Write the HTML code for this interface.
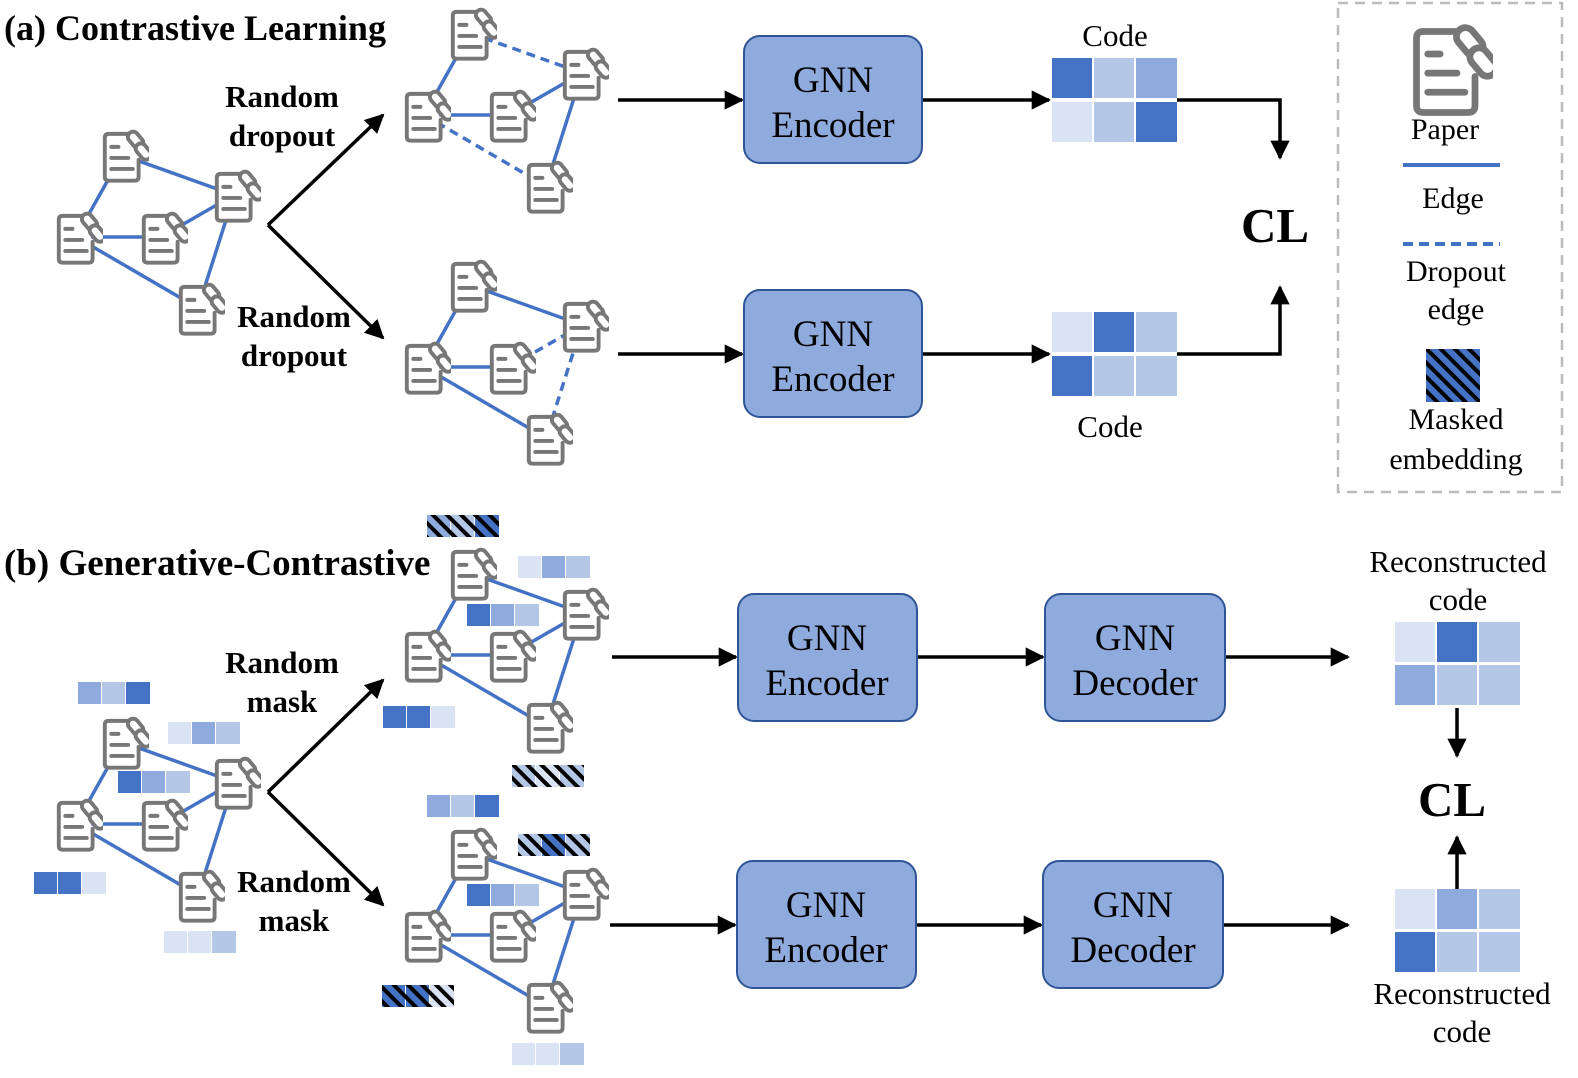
<!DOCTYPE html>
<html><head><meta charset="utf-8"><style>
html,body{margin:0;padding:0;background:#fff;}
svg{display:block;}
.t{font-family:"Liberation Serif",serif;}
</style></head><body>
<svg width="1578" height="1078" viewBox="0 0 1578 1078" xmlns="http://www.w3.org/2000/svg">
<defs>
<symbol id="p" viewBox="0 0 80 85">
<g fill="none" stroke="#777" stroke-width="6" stroke-linecap="round" stroke-linejoin="round">
<path d="M50 10 H18 Q12 10 12 16 V76 Q12 82 18 82 H58 Q64 82 64 76 V50" fill="#fff"/>
<path d="M22 30 H33 M22 47 H48 M22 64 H55"/>
<rect x="-8" y="-15" width="16" height="28" rx="8" transform="translate(60 20) rotate(-40)" fill="#fff"/>
<rect x="-8" y="-15" width="16" height="28" rx="8" transform="translate(72 38) rotate(-40)" fill="#fff"/>
</g>
</symbol>
<pattern id="st" width="10" height="10" patternUnits="userSpaceOnUse" patternTransform="rotate(-45)">
<rect x="0" y="0" width="4" height="10" fill="#000"/>
</pattern>
<marker id="ah" viewBox="0 0 10 10" refX="9" refY="5" markerWidth="5.5" markerHeight="5.5" orient="auto-start-reverse" markerUnits="strokeWidth">
<path d="M0 0 L10 5 L0 10 z" fill="#000"/>
</marker>
<g id="icons">
<use href="#p" x="-25" y="-28" width="52" height="56"/>
<use href="#p" x="87" y="12" width="52" height="56"/>
<use href="#p" x="-71" y="54" width="52" height="56"/>
<use href="#p" x="14" y="54" width="52" height="56"/>
<use href="#p" x="51" y="125" width="52" height="56"/>
</g>
<g id="fullg">
<g stroke="#4472C4" stroke-width="3.5" fill="none">
<line x1="0" y1="0" x2="-46" y2="82"/><line x1="-46" y1="82" x2="39" y2="82"/><line x1="39" y1="82" x2="112" y2="40"/><line x1="112" y1="40" x2="76" y2="153"/>
<line x1="0" y1="0" x2="112" y2="40"/><line x1="-46" y1="82" x2="76" y2="153"/>
</g>
<use href="#icons"/>
</g>
</defs>

<text class="t" x="4" y="40" font-size="36" font-weight="bold">(a) Contrastive Learning</text>
<text class="t" x="4" y="575" font-size="37" font-weight="bold">(b) Generative-Contrastive</text>

<use href="#fullg" transform="translate(122 155)"/>
<g transform="translate(470 33)">
<g stroke="#4472C4" stroke-width="3.5" fill="none">
<line x1="0" y1="0" x2="-46" y2="82"/><line x1="-46" y1="82" x2="39" y2="82"/><line x1="39" y1="82" x2="112" y2="40"/><line x1="112" y1="40" x2="76" y2="153"/>
<line x1="0" y1="0" x2="112" y2="40" stroke-dasharray="9 6"/><line x1="-46" y1="82" x2="76" y2="153" stroke-dasharray="9 6"/>
</g><use href="#icons"/></g>
<g transform="translate(470 285)">
<g stroke="#4472C4" stroke-width="3.5" fill="none">
<line x1="0" y1="0" x2="-46" y2="82"/><line x1="-46" y1="82" x2="39" y2="82"/><line x1="39" y1="82" x2="112" y2="40" stroke-dasharray="9 6"/><line x1="112" y1="40" x2="76" y2="153" stroke-dasharray="9 6"/>
<line x1="0" y1="0" x2="112" y2="40"/><line x1="-46" y1="82" x2="76" y2="153"/>
</g><use href="#icons"/></g>

<use href="#fullg" transform="translate(122 742)"/>
<use href="#fullg" transform="translate(470 573)"/>
<use href="#fullg" transform="translate(470 853)"/>

<g stroke="#000" stroke-width="3.5" fill="none" marker-end="url(#ah)">
<line x1="268" y1="225" x2="383" y2="115"/>
<line x1="268" y1="225" x2="383" y2="338"/>
<line x1="268" y1="792" x2="383" y2="680"/>
<line x1="268" y1="792" x2="383" y2="905"/>
<line x1="618" y1="100" x2="742" y2="100"/>
<line x1="922" y1="100" x2="1049" y2="100"/>
<line x1="618" y1="354" x2="742" y2="354"/>
<line x1="922" y1="354" x2="1049" y2="354"/>
<polyline points="1177,100 1280,100 1280,158"/>
<polyline points="1177,354 1280,354 1280,287"/>
<line x1="612" y1="657" x2="736" y2="657"/>
<line x1="917" y1="657" x2="1043" y2="657"/>
<line x1="1225" y1="657" x2="1348" y2="657"/>
<line x1="610" y1="925" x2="735" y2="925"/>
<line x1="916" y1="925" x2="1041" y2="925"/>
<line x1="1223" y1="925" x2="1348" y2="925"/>
<line x1="1457" y1="708" x2="1457" y2="756"/>
<line x1="1457" y1="889" x2="1457" y2="837"/>
</g>

<g class="t" font-size="31" font-weight="bold" text-anchor="middle">
<text x="282" y="107">Random</text><text x="282" y="146">dropout</text>
<text x="294" y="327">Random</text><text x="294" y="366">dropout</text>
<text x="282" y="673">Random</text><text x="282" y="712">mask</text>
<text x="294" y="892">Random</text><text x="294" y="931">mask</text>
</g>

<g fill="#8FAADC" stroke="#2F5597" stroke-width="2">
<rect x="744" y="36" width="178" height="127" rx="16"/>
<rect x="744" y="290" width="178" height="127" rx="16"/>
<rect x="738" y="594" width="179" height="127" rx="16"/>
<rect x="1045" y="594" width="180" height="127" rx="16"/>
<rect x="737" y="861" width="179" height="127" rx="16"/>
<rect x="1043" y="861" width="180" height="127" rx="16"/>
</g>
<g class="t" font-size="37" text-anchor="middle">
<text x="833" y="92">GNN</text><text x="833" y="137">Encoder</text>
<text x="833" y="346">GNN</text><text x="833" y="391">Encoder</text>
<text x="827" y="650">GNN</text><text x="827" y="695">Encoder</text>
<text x="1135" y="650">GNN</text><text x="1135" y="695">Decoder</text>
<text x="826" y="917">GNN</text><text x="826" y="962">Encoder</text>
<text x="1133" y="917">GNN</text><text x="1133" y="962">Decoder</text>
</g>

<g>
<rect x="1052" y="58" width="40" height="40" fill="#4472C4"/><rect x="1094" y="58" width="40" height="40" fill="#B4C7E7"/><rect x="1136" y="58" width="41" height="40" fill="#8FAADC"/>
<rect x="1052" y="102" width="40" height="40" fill="#DAE3F3"/><rect x="1094" y="102" width="40" height="40" fill="#B4C7E7"/><rect x="1136" y="102" width="41" height="40" fill="#4472C4"/>
<rect x="1052" y="312" width="40" height="40" fill="#DAE3F3"/><rect x="1094" y="312" width="40" height="40" fill="#4472C4"/><rect x="1136" y="312" width="41" height="40" fill="#B4C7E7"/>
<rect x="1052" y="356" width="40" height="40" fill="#4472C4"/><rect x="1094" y="356" width="40" height="40" fill="#B4C7E7"/><rect x="1136" y="356" width="41" height="40" fill="#B4C7E7"/>
<rect x="1395" y="622" width="40" height="40" fill="#DAE3F3"/><rect x="1437" y="622" width="40" height="40" fill="#4472C4"/><rect x="1479" y="622" width="41" height="40" fill="#B4C7E7"/>
<rect x="1395" y="665" width="40" height="40" fill="#8FAADC"/><rect x="1437" y="665" width="40" height="40" fill="#B4C7E7"/><rect x="1479" y="665" width="41" height="40" fill="#B4C7E7"/>
<rect x="1395" y="889" width="40" height="40" fill="#DAE3F3"/><rect x="1437" y="889" width="40" height="40" fill="#8FAADC"/><rect x="1479" y="889" width="41" height="40" fill="#B4C7E7"/>
<rect x="1395" y="932" width="40" height="40" fill="#4472C4"/><rect x="1437" y="932" width="40" height="40" fill="#B4C7E7"/><rect x="1479" y="932" width="41" height="40" fill="#B4C7E7"/>
</g>
<g class="t" font-size="31" text-anchor="middle">
<text x="1115" y="46">Code</text>
<text x="1110" y="437">Code</text>
<text x="1458" y="572">Reconstructed</text><text x="1458" y="610">code</text>
<text x="1462" y="1004">Reconstructed</text><text x="1462" y="1042">code</text>
</g>
<g class="t" font-size="49" font-weight="bold" text-anchor="middle">
<text x="1275" y="242">CL</text>
<text x="1452" y="816">CL</text>
</g>

<g>
<rect x="78" y="682" width="23" height="22" fill="#8FAADC"/><rect x="102" y="682" width="23" height="22" fill="#B4C7E7"/><rect x="126" y="682" width="24" height="22" fill="#4472C4"/>
<rect x="168" y="722" width="23" height="22" fill="#DAE3F3"/><rect x="192" y="722" width="23" height="22" fill="#8FAADC"/><rect x="216" y="722" width="24" height="22" fill="#B4C7E7"/>
<rect x="118" y="771" width="23" height="22" fill="#4472C4"/><rect x="142" y="771" width="23" height="22" fill="#8FAADC"/><rect x="166" y="771" width="24" height="22" fill="#B4C7E7"/>
<rect x="34" y="872" width="23" height="22" fill="#4472C4"/><rect x="58" y="872" width="23" height="22" fill="#4472C4"/><rect x="82" y="872" width="24" height="22" fill="#DAE3F3"/>
<rect x="164" y="931" width="23" height="22" fill="#DAE3F3"/><rect x="188" y="931" width="23" height="22" fill="#DAE3F3"/><rect x="212" y="931" width="24" height="22" fill="#B4C7E7"/>
<rect x="518" y="556" width="23" height="22" fill="#DAE3F3"/><rect x="542" y="556" width="23" height="22" fill="#8FAADC"/><rect x="566" y="556" width="24" height="22" fill="#B4C7E7"/>
<rect x="467" y="604" width="23" height="22" fill="#4472C4"/><rect x="491" y="604" width="23" height="22" fill="#8FAADC"/><rect x="515" y="604" width="24" height="22" fill="#B4C7E7"/>
<rect x="383" y="706" width="23" height="22" fill="#4472C4"/><rect x="407" y="706" width="23" height="22" fill="#4472C4"/><rect x="431" y="706" width="24" height="22" fill="#DAE3F3"/>
<rect x="427" y="795" width="23" height="22" fill="#8FAADC"/><rect x="451" y="795" width="23" height="22" fill="#B4C7E7"/><rect x="475" y="795" width="24" height="22" fill="#4472C4"/>
<rect x="467" y="884" width="23" height="22" fill="#4472C4"/><rect x="491" y="884" width="23" height="22" fill="#8FAADC"/><rect x="515" y="884" width="24" height="22" fill="#B4C7E7"/>
<rect x="512" y="1043" width="23" height="22" fill="#DAE3F3"/><rect x="536" y="1043" width="23" height="22" fill="#DAE3F3"/><rect x="560" y="1043" width="24" height="22" fill="#B4C7E7"/>
<rect x="427" y="515" width="23" height="22" fill="#8FAADC"/><rect x="451" y="515" width="23" height="22" fill="#B4C7E7"/><rect x="475" y="515" width="24" height="22" fill="#4472C4"/>
<rect x="427" y="515" width="72" height="22" fill="url(#st)"/>
<rect x="512" y="765" width="23" height="22" fill="#B4C7E7"/><rect x="536" y="765" width="23" height="22" fill="#DAE3F3"/><rect x="560" y="765" width="24" height="22" fill="#B4C7E7"/>
<rect x="512" y="765" width="72" height="22" fill="url(#st)"/>
<rect x="518" y="834" width="23" height="22" fill="#B4C7E7"/><rect x="542" y="834" width="23" height="22" fill="#4472C4"/><rect x="566" y="834" width="24" height="22" fill="#B4C7E7"/>
<rect x="518" y="834" width="72" height="22" fill="url(#st)"/>
<rect x="382" y="985" width="23" height="22" fill="#4472C4"/><rect x="406" y="985" width="23" height="22" fill="#4472C4"/><rect x="430" y="985" width="24" height="22" fill="#DAE3F3"/>
<rect x="382" y="985" width="72" height="22" fill="url(#st)"/>
</g>

<rect x="1338" y="3" width="224" height="489" fill="none" stroke="#bbb" stroke-width="2.5" stroke-dasharray="10 7"/>
<use href="#p" x="1403" y="20" width="90" height="96"/>
<line x1="1403" y1="165" x2="1500" y2="165" stroke="#4472C4" stroke-width="4"/>
<line x1="1403" y1="244" x2="1500" y2="244" stroke="#4472C4" stroke-width="4" stroke-dasharray="10 6"/>
<rect x="1426" y="349" width="54" height="53" fill="#4472C4"/>
<rect x="1426" y="349" width="54" height="53" fill="url(#st)"/>
<g class="t" font-size="30" text-anchor="middle">
<text x="1445" y="139">Paper</text>
<text x="1453" y="208">Edge</text>
<text x="1456" y="281">Dropout</text><text x="1456" y="319">edge</text>
<text x="1456" y="429">Masked</text><text x="1456" y="469">embedding</text>
</g>
</svg>
</body></html>
